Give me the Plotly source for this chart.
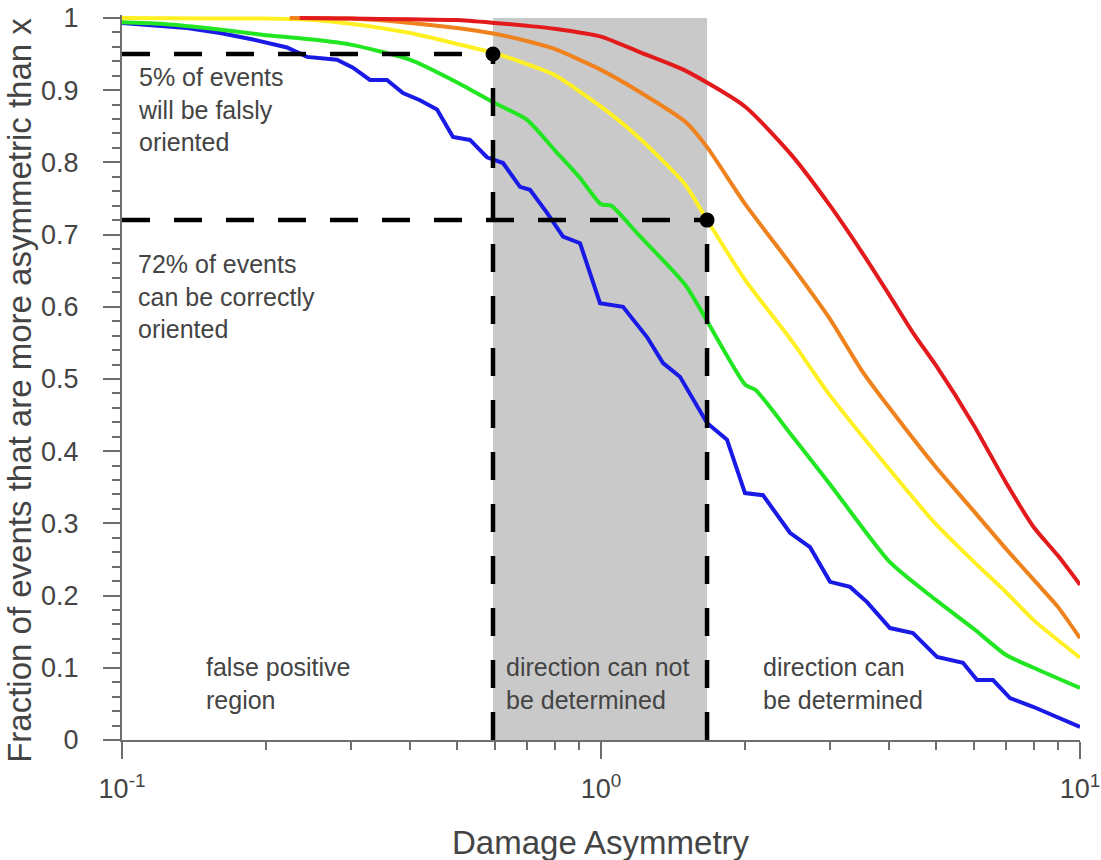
import plotly.graph_objects as go

# ---------------- data ----------------
red_x = [0.235, 0.3, 0.4, 0.5, 0.6, 0.7, 0.8, 1.0, 1.2, 1.5, 2.0, 2.5, 3.0, 3.5, 4.0, 4.5, 5.0, 6.0, 7.0, 8.0, 9.0, 10.0]
red_y = [1.0, 0.999, 0.998, 0.997, 0.993, 0.989, 0.985, 0.974, 0.953, 0.927, 0.877, 0.810, 0.741, 0.676, 0.616, 0.562, 0.519, 0.436, 0.357, 0.295, 0.255, 0.215]

orange_x = [0.224, 0.3, 0.4, 0.5, 0.6, 0.7, 0.8, 1.0, 1.2, 1.5, 1.665, 2.0, 2.5, 3.0, 3.5, 4.0, 5.0, 6.0, 7.0, 8.0, 9.0, 10.0]
orange_y = [1.0, 0.999, 0.993, 0.986, 0.978, 0.968, 0.957, 0.928, 0.898, 0.856, 0.821, 0.742, 0.657, 0.584, 0.512, 0.460, 0.378, 0.317, 0.265, 0.222, 0.184, 0.141]

yellow_x = [0.1, 0.15, 0.2, 0.25, 0.3, 0.4, 0.5, 0.6, 0.7, 0.8, 1.0, 1.2, 1.5, 1.665, 2.0, 2.5, 3.0, 4.0, 5.0, 6.0, 7.0, 8.0, 10.0]
yellow_y = [1.0, 0.999, 0.999, 0.997, 0.992, 0.979, 0.964, 0.951, 0.936, 0.921, 0.877, 0.834, 0.769, 0.720, 0.637, 0.553, 0.478, 0.375, 0.299, 0.247, 0.205, 0.166, 0.114]

green_x = [0.1, 0.12, 0.15, 0.2, 0.25, 0.3, 0.4, 0.5, 0.6, 0.7, 0.8, 0.9, 1.0, 1.05, 1.2, 1.5, 2.0, 2.1, 2.5, 3.0, 4.0, 5.0, 6.0, 7.0, 8.0, 10.0]
green_y = [0.994, 0.992, 0.986, 0.976, 0.970, 0.963, 0.942, 0.911, 0.882, 0.859, 0.817, 0.780, 0.742, 0.740, 0.699, 0.630, 0.492, 0.485, 0.422, 0.355, 0.247, 0.194, 0.154, 0.118, 0.100, 0.072]

blue_x = [0.1, 0.1367, 0.1602, 0.1877, 0.2211, 0.2433, 0.2811, 0.3035, 0.3294, 0.3574, 0.386, 0.4189,
          0.4546, 0.4909, 0.5327, 0.5781, 0.6245, 0.6776, 0.7109, 0.7715, 0.8332, 0.9042, 0.9952, 1.1115,
          1.2474, 1.3475, 1.4618, 1.5562, 1.6647, 1.8323, 1.998, 2.1788, 2.4805, 2.7313, 3.0076, 3.3107,
          3.5926, 4.0113, 4.48, 5.0292, 5.6979, 6.0954, 6.5826, 7.1433, 7.9797, 10.0]
blue_y = [0.993, 0.986, 0.979, 0.970, 0.959, 0.946, 0.942, 0.931, 0.914, 0.914, 0.896, 0.886,
          0.873, 0.835, 0.831, 0.807, 0.799, 0.766, 0.762, 0.730, 0.697, 0.688, 0.605, 0.600,
          0.558, 0.522, 0.503, 0.471, 0.439, 0.416, 0.342, 0.339, 0.287, 0.267, 0.219, 0.212,
          0.191, 0.155, 0.148, 0.115, 0.107, 0.083, 0.083, 0.058, 0.046, 0.018]

# thresholds
x_low, y_low = 0.595, 0.95     # 5% falsely oriented
x_high, y_high = 1.665, 0.72   # 72% correctly oriented
x_min = 0.1

y_tick_vals = [0, 0.1, 0.2, 0.3, 0.4, 0.5, 0.6, 0.7, 0.8, 0.9, 1.0]
y_tick_text = ["0", "0.1", "0.2", "0.3", "0.4", "0.5", "0.6", "0.7", "0.8", "0.9", "1"]
x_tick_vals = [0.1, 1, 10]
x_tick_text = ["10<sup>-1</sup>", "10<sup>0</sup>", "10<sup>1</sup>"]
x_minor_vals = [0.2, 0.3, 0.4, 0.5, 0.6, 0.7, 0.8, 0.9, 2, 3, 4, 5, 6, 7, 8, 9]

FONT = "Liberation Sans, Arial, Helvetica, sans-serif"
TXT = "#444444"
AX = "#6e6e6e"

fig = go.Figure()

# shaded "cannot be determined" region
fig.add_shape(type="rect", xref="x", yref="y", x0=x_low, x1=x_high, y0=0, y1=1,
              fillcolor="#c9c9c9", line=dict(width=0), layer="below")

series = [
    (blue_x, blue_y, "#1a1ae6", "linear"),
    (green_x, green_y, "#22e622", "spline"),
    (yellow_x, yellow_y, "#fff024", "spline"),
    (orange_x, orange_y, "#f0821e", "spline"),
    (red_x, red_y, "#e31a1c", "spline"),
]
for xs, ys, c, shp in series:
    fig.add_trace(go.Scatter(x=xs, y=ys, mode="lines",
                             line=dict(color=c, width=4, shape=shp, smoothing=0.6),
                             showlegend=False, hoverinfo="skip"))

dash = "28px,24px"
dash_lines = [
    ([x_min, x_low], [y_low, y_low]),
    ([x_low, x_low], [0, y_low]),
    ([x_min, x_high], [y_high, y_high]),
    ([x_high, x_high], [0, y_high]),
]
for xs, ys in dash_lines:
    fig.add_trace(go.Scatter(x=xs, y=ys, mode="lines",
                             line=dict(color="black", width=4.5, dash=dash),
                             showlegend=False, hoverinfo="skip"))

fig.add_trace(go.Scatter(x=[x_low, x_high], y=[y_low, y_high], mode="markers",
                         marker=dict(color="black", size=15), showlegend=False,
                         hoverinfo="skip", cliponaxis=False))

ann_font = dict(family=FONT, size=25, color=TXT)
annots = [
    (-0.969, 0.8726, "5% of events<br>will be falsly<br>oriented"),
    (-0.969, 0.6136, "72% of events<br>can be correctly<br>oriented"),
    (-0.827, 0.0776, "false positive<br>region"),
    (-0.2004, 0.0776, "direction can not<br>be determined"),
    (0.336, 0.0776, "direction can<br>be determined"),
]
for ax_, ay_, t in annots:
    fig.add_annotation(x=ax_, y=ay_, xref="x", yref="y", text=t, showarrow=False,
                       xanchor="left", yanchor="middle", align="left", font=ann_font,
                       borderpad=0)

fig.add_annotation(x=-0.1065, y=0.483, xref="paper", yref="paper",
                   text="Fraction of events that are more asymmetric than x",
                   textangle=-90, showarrow=False, xanchor="center", yanchor="middle",
                   font=dict(family=FONT, size=33, color=TXT))
fig.add_annotation(x=0.5, y=-0.1407, xref="paper", yref="paper",
                   text="Damage Asymmetry", showarrow=False, xanchor="center",
                   yanchor="middle", font=dict(family=FONT, size=33, color=TXT))

fig.update_layout(
    width=1101, height=860,
    margin=dict(l=122, r=21, t=15, b=120, autoexpand=False),
    paper_bgcolor="white", plot_bgcolor="white",
    font=dict(family=FONT, color=TXT),
    showlegend=False,
    xaxis=dict(type="log", range=[-1, 1], showgrid=False, zeroline=False, automargin=False,
               showline=True, linecolor=AX, linewidth=2,
               ticks="outside", ticklen=17, tickwidth=2, tickcolor=AX,
               tickmode="array", tickvals=x_tick_vals, ticktext=x_tick_text,
               tickfont=dict(family=FONT, size=27, color=TXT),
               ticklabelstandoff=7,
               minor=dict(ticks="outside", ticklen=8, tickwidth=1.5, tickcolor=AX,
                          tickmode="array", tickvals=x_minor_vals, showgrid=False)),
    yaxis=dict(range=[0, 1.004], showgrid=False, zeroline=False, automargin=False,
               showline=True, linecolor=AX, linewidth=2,
               ticks="outside", ticklen=17, tickwidth=2, tickcolor=AX,
               tickmode="array", tickvals=y_tick_vals, ticktext=y_tick_text,
               tickfont=dict(family=FONT, size=27, color=TXT),
               ticklabelstandoff=19,
               minor=dict(ticks="outside", ticklen=8, tickwidth=1.5, tickcolor=AX,
                          dtick=0.02, tick0=0, showgrid=False)),
)

fig.write_html("out.html")
